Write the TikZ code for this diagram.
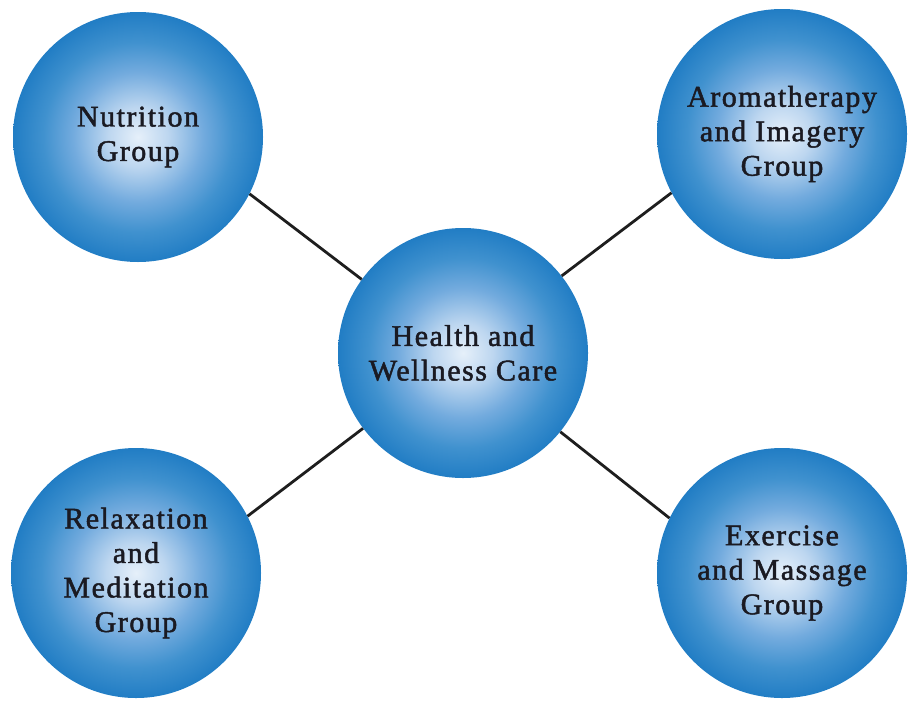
\documentclass[tikz,border=0pt]{standalone}
\usepackage{fontspec}
\setmainfont{Liberation Serif}[LetterSpace=5,FakeBold=1.6]
\definecolor{txt}{RGB}{26,26,34}
\definecolor{linkc}{RGB}{30,30,30}
\pgfdeclareradialshading{ball}{\pgfpoint{0bp}{0bp}}{rgb(0bp)=(0.90,0.94,0.98); rgb(6bp)=(0.74,0.84,0.94); rgb(13bp)=(0.45,0.67,0.87); rgb(19bp)=(0.25,0.57,0.81); rgb(25bp)=(0.13,0.49,0.77); rgb(50bp)=(0.13,0.49,0.77)}
\tikzset{
  ball/.style={circle, minimum size=250pt, inner sep=0pt, shading=ball, align=center, text=txt,
    font=\fontsize{30}{34.5}\selectfont},
  link/.style={draw=linkc, line width=2.8pt}
}
\begin{document}
\begin{tikzpicture}[x=1pt,y=-1pt]
\useasboundingbox (0,0) rectangle (917,704);
\node[ball] (nut) at (138,137) {Nutrition\\Group};
\node[ball] (aro) at (782,134) {Aromatherapy\\and Imagery\\Group};
\node[ball] (hub) at (463,353) {Health and\\Wellness Care};
\node[ball] (rel) at (136,573) {Relaxation\\and\\Meditation\\Group};
\node[ball] (exe) at (782,573) {Exercise\\and Massage\\Group};
\draw[link] (nut.-27) -- (hub.144);
\draw[link] (hub.38) -- (aro.-152);
\draw[link] (hub.-143) -- (rel.27);
\draw[link] (hub.-39.5) -- (exe.154);
\end{tikzpicture}
\end{document}
